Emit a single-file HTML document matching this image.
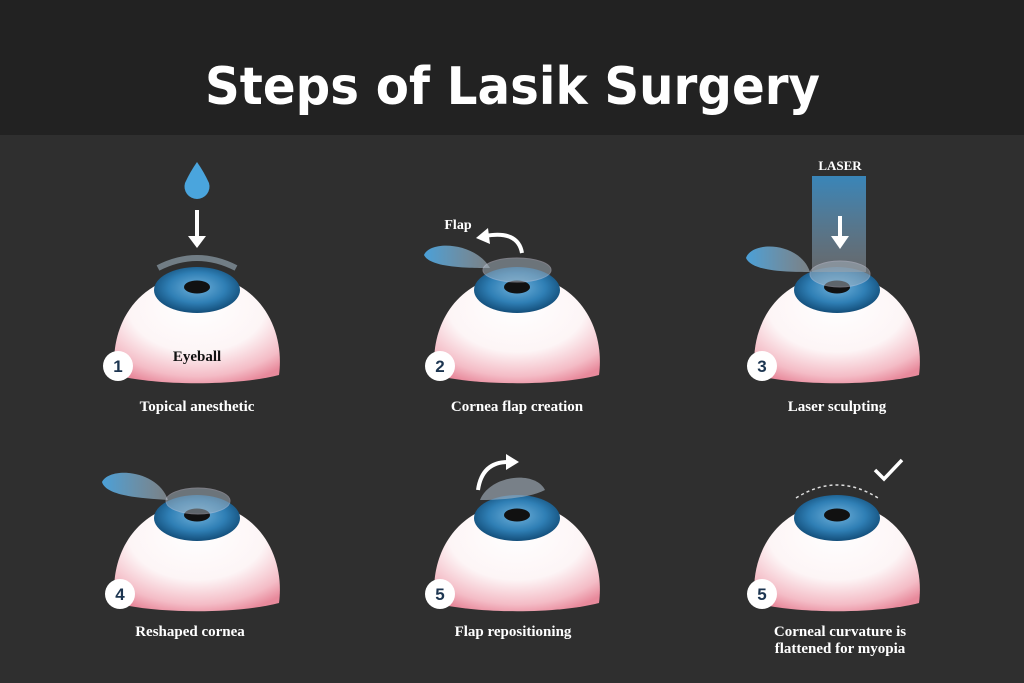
<!DOCTYPE html>
<html><head><meta charset="utf-8"><style>
html,body{margin:0;padding:0;background:#2e2e2e;}
svg{display:block}
</style></head><body>
<svg width="1024" height="683" viewBox="0 0 1024 683" xmlns="http://www.w3.org/2000/svg">
<defs>
<radialGradient id="dome" cx="0.5" cy="0.3" r="0.75">
<stop offset="0" stop-color="#ffffff"/><stop offset="0.55" stop-color="#fdf5f6"/><stop offset="0.85" stop-color="#f4bcc6"/><stop offset="1" stop-color="#e88a9c"/>
</radialGradient>
<radialGradient id="iris" cx="0.5" cy="0.45" r="0.55">
<stop offset="0" stop-color="#6fb0da"/><stop offset="0.6" stop-color="#2f7fb5"/><stop offset="1" stop-color="#134e7a"/>
</radialGradient>
<linearGradient id="flap" x1="0" x2="1"><stop offset="0" stop-color="#4aa0d8"/><stop offset="1" stop-color="#9aa3aa" stop-opacity="0.7"/></linearGradient>
<linearGradient id="beam" x1="0" y1="0" x2="0" y2="1"><stop offset="0" stop-color="#3a8fc8" stop-opacity="0.9"/><stop offset="1" stop-color="#8a8f95" stop-opacity="0.6"/></linearGradient>
<g id="eye">
<path d="M-82 85 C-88 40 -64 -12 0 -16 C64 -12 88 40 82 85 C40 96 -40 96 -82 85 Z" fill="url(#dome)"/>
<ellipse cx="0" cy="0" rx="43" ry="23" fill="url(#iris)"/>
<ellipse cx="0" cy="-3" rx="13" ry="6.5" fill="#111"/>
</g>
</defs>
<rect x="0" y="0" width="1024" height="135" fill="#222222"/>
<rect x="0" y="135" width="1024" height="548" fill="#2f2f2f"/>
<text x="205" y="104" textLength="615" lengthAdjust="spacingAndGlyphs" font-family="DejaVu Sans, sans-serif" font-weight="bold" font-size="52" fill="#fff">Steps of Lasik Surgery</text>

<g font-family="Liberation Serif, serif" font-weight="bold" font-size="15" fill="#fff" text-anchor="middle">
<!-- Step 1 -->
<use href="#eye" x="197" y="290"/>
<path d="M185 183 Q190 172 197 162 Q204 172 209 183 A12.5 12.5 0 1 1 185 183Z" fill="#4aa5dd"/>
<line x1="197" y1="210" x2="197" y2="240" stroke="#fff" stroke-width="4"/>
<path d="M188 236 L197 248 L206 236Z" fill="#fff"/>
<path d="M158 268 Q197 248 236 268" fill="none" stroke="#9fb2c0" stroke-width="6" opacity="0.6"/>
<text x="197" y="361" font-size="15" fill="#111">Eyeball</text>
<text x="197" y="411">Topical anesthetic</text>
<!-- Step 2 -->
<use href="#eye" x="517" y="290"/>
<path d="M424 255 C430 240 475 242 490 268 C470 268 430 268 424 255Z" fill="url(#flap)"/>
<ellipse cx="517" cy="270" rx="34" ry="12" fill="#aab8c4" opacity="0.5" stroke="#ccd" stroke-width="1"/>
<text x="458" y="229" font-size="14">Flap</text>
<path d="M522 253 Q518 230 485 236" fill="none" stroke="#fff" stroke-width="4"/>
<path d="M488 228 L476 238 L490 244Z" fill="#fff"/>
<text x="517" y="411">Cornea flap creation</text>
<!-- Step 3 -->
<use href="#eye" x="837" y="290"/>
<rect x="812" y="176" width="54" height="96" fill="url(#beam)"/>
<path d="M746 258 C752 240 800 242 810 272 C790 272 752 272 746 258Z" fill="url(#flap)"/>
<ellipse cx="840" cy="274" rx="30" ry="13" fill="#aab8c4" opacity="0.5" stroke="#ccd"/>
<line x1="840" y1="216" x2="840" y2="240" stroke="#fff" stroke-width="4"/>
<path d="M831 236 L840 249 L849 236Z" fill="#fff"/>
<text x="840" y="170" font-size="13">LASER</text>
<text x="837" y="411">Laser sculpting</text>
<!-- Step 4 -->
<use href="#eye" x="197" y="518"/>
<path d="M102 482 C110 466 158 470 168 500 C140 498 106 496 102 482Z" fill="url(#flap)"/>
<ellipse cx="198" cy="501" rx="32" ry="13" fill="#aab8c4" opacity="0.5" stroke="#ccd"/>
<text x="190" y="636">Reshaped cornea</text>
<!-- Step 5 -->
<use href="#eye" x="517" y="518"/>
<path d="M480 500 C490 475 535 470 545 490 C530 498 500 500 480 500Z" fill="#aab8c4" opacity="0.6"/>
<path d="M478 490 Q482 462 508 462" fill="none" stroke="#fff" stroke-width="4"/>
<path d="M506 454 L519 462 L506 470Z" fill="#fff"/>
<text x="513" y="636">Flap repositioning</text>
<!-- Step 6 -->
<use href="#eye" x="837" y="518"/>
<path d="M796 498 Q837 472 878 498" fill="none" stroke="#ddd" stroke-width="1.5" stroke-dasharray="3 3"/>
<path d="M875 470 L884 479 L902 460" fill="none" stroke="#fff" stroke-width="3.5"/>
<text x="840" y="636">Corneal curvature is</text>
<text x="840" y="653">flattened for myopia</text>
<!-- numbers -->
<g font-family="Liberation Sans, sans-serif" font-size="17" fill="#1c3550">
<circle cx="118" cy="366" r="15" fill="#fff"/><text x="118" y="372">1</text>
<circle cx="440" cy="366" r="15" fill="#fff"/><text x="440" y="372">2</text>
<circle cx="762" cy="366" r="15" fill="#fff"/><text x="762" y="372">3</text>
<circle cx="120" cy="594" r="15" fill="#fff"/><text x="120" y="600">4</text>
<circle cx="440" cy="594" r="15" fill="#fff"/><text x="440" y="600">5</text>
<circle cx="762" cy="594" r="15" fill="#fff"/><text x="762" y="600">5</text>
</g>
</g>
</svg>
</body></html>
